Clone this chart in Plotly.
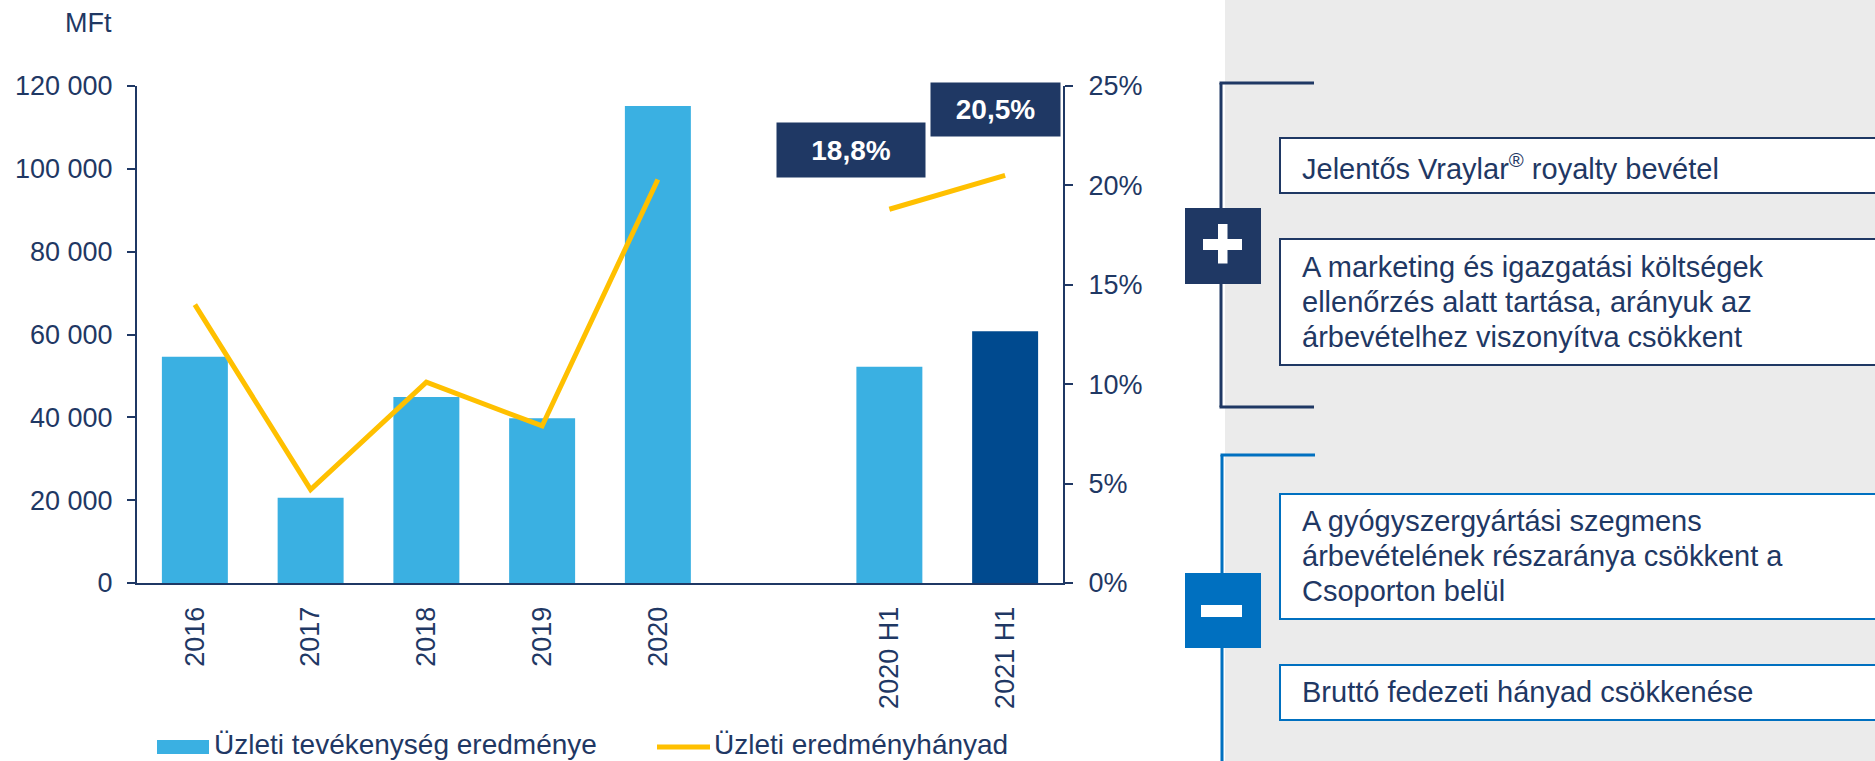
import plotly.graph_objects as go

# ---------------- data ----------------
categories = ["2016", "2017", "2018", "2019", "2020", " ", "2020 H1", "2021 H1"]
operating_profit = [54600, 20600, 44900, 39800, 115200, None, 52200, 60800]   # MFt
operating_margin = [14.0, 4.7, 10.1, 7.9, 20.3, None, 18.8, 20.5]              # %
highlight_cats = ["2020 H1", "2021 H1"]
series_names = ["Üzleti tevékenység eredménye", "Üzleti eredményhányad"]
unit_label = "MFt"
plus_items = [
    ["Jelentős Vraylar<sup>®</sup> royalty bevétel"],
    ["A marketing és igazgatási költségek", "ellenőrzés alatt tartása, arányuk az",
     "árbevételhez viszonyítva csökkent"],
]
minus_items = [
    ["A gyógyszergyártási szegmens", "árbevételének részaránya csökkent a", "Csoporton belül"],
    ["Bruttó fedezeti hányad csökkenése"],
]

# ---------------- style ----------------
W, H = 1875, 761
NAVY = "#1F3864"
LIGHT = "#3AB0E2"
DARK = "#004A8F"
GOLD = "#FFC000"
BLUE = "#0070C0"
GREY = "#EBEBEB"
FONT = "Liberation Sans, Arial, sans-serif"


def fx(p):
    return p / W


def fy(p):
    return 1 - p / H


bar_colors = [DARK if c == categories[-1] else LIGHT for c in categories]
tick_cats = [c for c in categories if c.strip()]

fig = go.Figure()
fig.add_trace(go.Bar(x=categories, y=operating_profit, marker=dict(color=bar_colors, line=dict(width=0)),
                     name=series_names[0], showlegend=False))
fig.add_trace(go.Scatter(x=categories, y=operating_margin, yaxis="y2", mode="lines",
                         line=dict(color=GOLD, width=5), name=series_names[1],
                         connectgaps=False, showlegend=False))

shapes = []
annotations = []

# data labels for highlighted periods
label_offsets = {"2020 H1": (-38, 59, 148, 54), "2021 H1": (-10, 66, 129, 53)}
for c in highlight_cats:
    v = operating_margin[categories.index(c)]
    dx, dy, w, h = label_offsets[c]
    annotations.append(dict(x=c, y=v, xref="x", yref="y2", xshift=dx, yshift=dy,
                            text="<b>" + f"{v:.1f}%".replace(".", ",") + "</b>",
                            showarrow=False, bgcolor=NAVY, width=w, height=h, borderpad=0,
                            font=dict(family=FONT, size=28, color="white")))

# unit label
annotations.append(dict(x=fx(114), y=fy(23), xref="paper", yref="paper", xanchor="right",
                        yanchor="middle", text=unit_label, showarrow=False,
                        font=dict(family=FONT, size=27, color=NAVY)))

# custom legend
shapes.append(dict(type="rect", xref="paper", yref="paper", x0=fx(157), x1=fx(209),
                   y0=fy(740), y1=fy(754), fillcolor=LIGHT, line=dict(width=0)))
annotations.append(dict(x=fx(213), y=fy(761), xref="paper", yref="paper", xanchor="left",
                        yanchor="bottom", text=series_names[0], showarrow=False, borderpad=0,
                        font=dict(family=FONT, size=28, color=NAVY)))
shapes.append(dict(type="line", xref="paper", yref="paper", x0=fx(657), x1=fx(710),
                   y0=fy(747), y1=fy(747), line=dict(color=GOLD, width=5)))
annotations.append(dict(x=fx(713), y=fy(761), xref="paper", yref="paper", xanchor="left",
                        yanchor="bottom", text=series_names[1], showarrow=False, borderpad=0,
                        font=dict(family=FONT, size=28, color=NAVY)))

# right panel background
shapes.append(dict(type="rect", xref="paper", yref="paper", x0=fx(1225), x1=fx(1880),
                   y0=fy(765), y1=fy(-5), fillcolor=GREY, line=dict(width=0), layer="below"))


def bracket_line(x0, y0, x1, y1, color):
    shapes.append(dict(type="line", xref="paper", yref="paper", x0=fx(x0), x1=fx(x1),
                       y0=fy(y0), y1=fy(y1), line=dict(color=color, width=3)))


bracket_line(1221, 83, 1221, 407, NAVY)
bracket_line(1219.5, 83, 1314, 83, NAVY)
bracket_line(1219.5, 407, 1314, 407, NAVY)
bracket_line(1222, 455, 1222, 770, BLUE)
bracket_line(1220.5, 455, 1315, 455, BLUE)


def rect(x0, y0, x1, y1, fill, line_color=None, lw=0):
    shapes.append(dict(type="rect", xref="paper", yref="paper", x0=fx(x0), x1=fx(x1),
                       y0=fy(y1), y1=fy(y0), fillcolor=fill,
                       line=dict(color=line_color or fill, width=lw)))


# plus / minus boxes
rect(1185, 208, 1261, 284, NAVY)
rect(1203, 239, 1242, 250, "white")
rect(1218, 224, 1227.5, 263.5, "white")
rect(1185, 573, 1261, 648, BLUE)
rect(1201, 605, 1242, 617, "white")

# text boxes
boxes = [
    (plus_items[0], 138, 193, NAVY, [167]),
    (plus_items[1], 239, 365, NAVY, [266.5, 302, 337]),
    (minus_items[0], 494, 619, BLUE, [521, 556, 591]),
    (minus_items[1], 665, 720, BLUE, [692]),
]
for lines, y0, y1, col, centers in boxes:
    rect(1280, y0, 1890, y1, "white", col, 2)
    for txt, yc in zip(lines, centers):
        annotations.append(dict(x=fx(1300), y=fy(yc), xref="paper", yref="paper",
                                xanchor="left", yanchor="middle", text=txt, showarrow=False,
                                font=dict(family=FONT, size=29, color=NAVY)))

fig.update_layout(
    width=W, height=H,
    margin=dict(l=0, r=0, t=0, b=0, autoexpand=False),
    paper_bgcolor="white", plot_bgcolor="white",
    separators=", ",
    bargap=0.43,
    showlegend=False,
    font=dict(family=FONT, size=27, color=NAVY),
    xaxis=dict(domain=[fx(137), fx(1063)], type="category", categoryorder="array",
               categoryarray=categories, tickmode="array", tickvals=tick_cats, ticktext=tick_cats,
               showline=True, linecolor=NAVY, linewidth=2, automargin=False,
               ticks="", tickangle=-90, ticklabelstandoff=11, showgrid=False, zeroline=False,
               tickfont=dict(family=FONT, size=27, color=NAVY)),
    yaxis=dict(domain=[fy(583), fy(86)], range=[0, 120000], dtick=20000, tickformat=",",
               showline=True, linecolor=NAVY, linewidth=2, ticks="outside", ticklen=8,
               tickwidth=2, tickcolor=NAVY, showgrid=False, zeroline=False, automargin=False,
               ticklabelstandoff=9, tickfont=dict(family=FONT, size=27, color=NAVY)),
    yaxis2=dict(overlaying="y", side="right", anchor="x", range=[0, 25], dtick=5,
                ticksuffix="%", showline=True, linecolor=NAVY, linewidth=2, ticks="outside",
                ticklen=8, tickwidth=2, tickcolor=NAVY, showgrid=False, zeroline=False,
                automargin=False, ticklabelstandoff=10,
                tickfont=dict(family=FONT, size=27, color=NAVY)),
    shapes=shapes,
    annotations=annotations,
)

fig.write_html("out.html", config={"displayModeBar": False},
               post_script="document.body.style.margin='0';document.body.style.overflow='hidden';")
